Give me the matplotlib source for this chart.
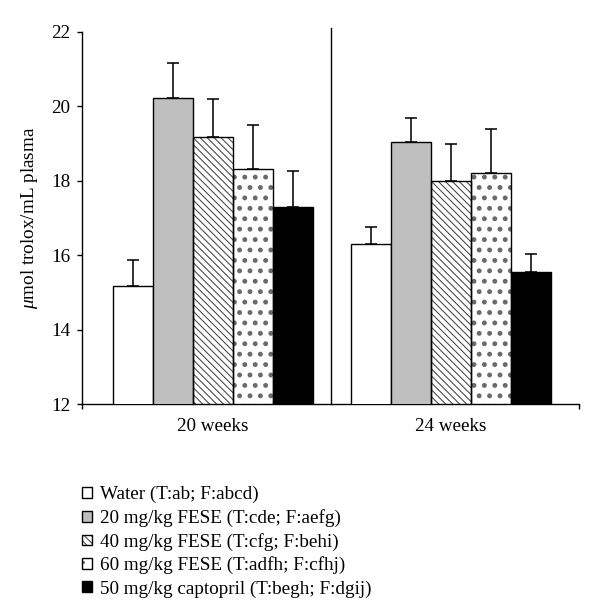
import matplotlib
matplotlib.use('Agg')
import matplotlib.pyplot as plt
import numpy as np
from matplotlib.legend_handler import HandlerTuple

plt.rcParams['font.family'] = 'Liberation Serif'
plt.rcParams['mathtext.fontset'] = 'custom'
plt.rcParams['mathtext.it'] = 'Liberation Serif:italic'
plt.rcParams['mathtext.rm'] = 'Liberation Serif'
plt.rcParams['hatch.linewidth'] = 0.6

# data
periods = ['20 weeks', '24 weeks']
groups = ['Water (T:ab; F:abcd)',
          '20 mg/kg FESE (T:cde; F:aefg)',
          '40 mg/kg FESE (T:cfg; F:behi)',
          '60 mg/kg FESE (T:adfh; F:cfhj)',
          '50 mg/kg captopril (T:begh; F:dgij)']
mean_20w = [15.17, 20.22, 19.18, 18.31, 17.29]
sd_20w = [0.70, 0.95, 1.01, 1.20, 0.98]
mean_24w = [16.31, 19.03, 18.00, 18.20, 15.54]
sd_24w = [0.46, 0.66, 1.00, 1.19, 0.50]
yticks = [12, 14, 16, 18, 20, 22]

means = np.array([mean_20w, mean_24w])
sds = np.array([sd_20w, sd_24w])

# bar styles: face, hatch, hatch colour, hatch linewidth
styles = [
    ('white', None, None, 0.6),
    ('#bfbfbf', None, None, 0.6),
    ('white', '\\\\\\\\\\\\', '#444444', 0.6),
    ('white', '..', '#6a6a6a', 1.6),
    ('black', None, None, 0.6),
]

fig = plt.figure(figsize=(4.8, 4.92), dpi=125)
ax = fig.add_axes([0.137, 0.343, 0.828, 0.605])

centers = np.array([0.525, 1.483])
width = 0.161
handles = []
for i, (face, hatch, hcol, hlw) in enumerate(styles):
    x = centers + (i - 2) * width
    parts = []
    if hatch:
        with plt.rc_context({'hatch.linewidth': hlw}):
            b = ax.bar(x, means[:, i], width, color=face, hatch=hatch,
                       edgecolor=hcol, linewidth=0, zorder=2)
        parts.append(b)
    b2 = ax.bar(x, means[:, i], width, color=face if not hatch else 'none',
                edgecolor='black', linewidth=0.8, zorder=3)
    parts.append(b2)
    ax.errorbar(x, means[:, i], yerr=[np.zeros(2), sds[:, i]], fmt='none',
                ecolor='black', elinewidth=0.9, capsize=3.2, capthick=0.9,
                zorder=4)
    handles.append(tuple(parts))

ax.set_xlim(0, 2)
ax.set_ylim(12, 22)
ax.set_yticks(yticks)
ax.set_xticks([0, 2])
ax.set_xticklabels(['', ''])
ax.set_xticks(centers, periods, minor=True)
ax.tick_params(axis='x', which='minor', length=0, pad=8, labelsize=11)
ax.tick_params(axis='x', which='major', length=3, width=0.8, direction='out')
ax.tick_params(axis='y', length=3, width=0.8, direction='out', labelsize=11, pad=4)

ax.axvline(1.0, ymin=0, ymax=1.01, color='black', lw=0.8, clip_on=False)

for s in ['top', 'right']:
    ax.spines[s].set_visible(False)
for s in ['left', 'bottom']:
    ax.spines[s].set_linewidth(0.8)

ax.set_ylabel(r'$\mu$mol trolox/mL plasma', fontsize=11, labelpad=6)

fig.legend(handles, groups, loc='upper left', bbox_to_anchor=(0.121, 0.225),
           frameon=False, fontsize=11, handlelength=0.5, handleheight=0.5,
           handletextpad=0.45, labelspacing=0.3, borderpad=0,
           handler_map={tuple: HandlerTuple(ndivide=1, pad=0)})

fig.savefig('out.png', dpi=125)
